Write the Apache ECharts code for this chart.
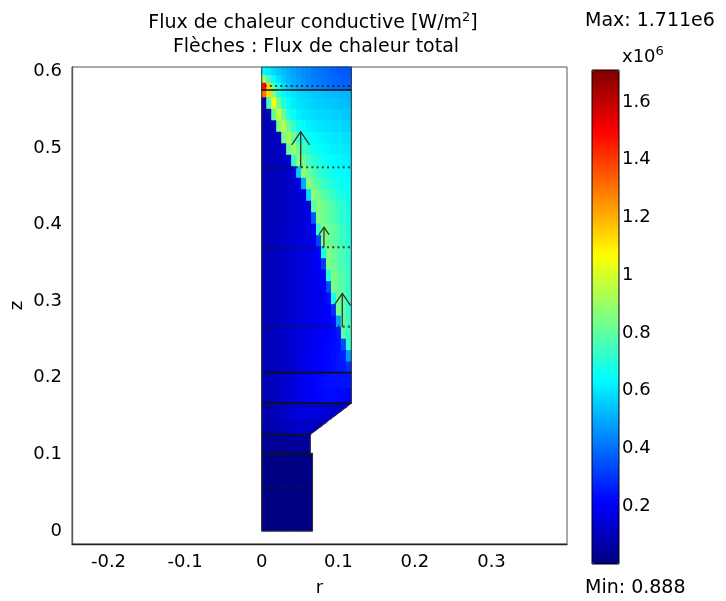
<!DOCTYPE html>
<html><head><meta charset="utf-8">
<script src="https://cdn.jsdelivr.net/npm/echarts@6/dist/echarts.min.js"></script>
<style>html,body{margin:0;padding:0;background:#fff}#c{width:726px;height:601px}</style>
</head><body><div id="c"></div>
<script>
// ---- grid of the field (r in m, z in m) ----
const rEdges = [0,0.0065,0.013,0.0195,0.026,0.0325,0.039,0.0455,0.052,0.0585,0.065,0.0715,0.078,0.0845,0.091,0.0975,0.104,0.1105,0.117];
const zEdges = [0,0.0505,0.101,0.126,0.1465,0.1667,0.1867,0.2067,0.2217,0.2367,0.2517,0.2667,0.2817,0.2967,0.3117,0.3267,0.3417,0.3567,0.3717,0.3867,0.4017,0.4167,0.4317,0.4467,0.4617,0.4767,0.4917,0.5067,0.5217,0.5367,0.5517,0.5667,0.5757,0.5857,0.5957,0.6057];

// conductive heat flux, units of 1e5 W/m2 (rows bottom -> top, columns r = 0 -> 0.117)
const fluxBase = [
 [0.05,0.05,0.05,0.05,0.05,0.05,0.05,0.05,0.05,0.05,0.05,null,null,null,null,null,null,null],
 [0.1,0.1,0.1,0.1,0.1,0.1,0.1,0.1,0.1,0.1,0.1,null,null,null,null,null,null,null],
 [0.35,0.35,0.4,0.4,0.4,0.45,0.45,0.45,0.45,0.45,null,null,null,null,null,null,null,null],
 [0.6,0.65,0.75,0.85,0.95,1.05,1.15,1.2,1.2,1.15,1.05,0.95,0.9,0.85,null,null,null,null],
 [0.8,0.85,0.95,1.05,1.2,1.35,1.5,1.6,1.65,1.7,1.65,1.55,1.45,1.35,1.3,1.25,1.2,1.15],
 [0.85,0.9,1.0,1.1,1.25,1.4,1.55,1.7,1.85,1.95,2.05,2.15,2.25,2.3,2.3,2.25,2.2,2.15],
 [0.9,0.95,1.05,1.15,1.3,1.45,1.6,1.75,1.9,2.0,2.1,2.2,2.3,2.35,2.4,2.4,2.4,2.45]
];
const fluxColumn = [
 [0.9,0.95,1.0,1.1,1.2,1.3,1.4,1.55,1.7,1.85,1.95,2.05,2.15,2.25,2.35,2.45,2.55,2.9],
 [0.9,0.95,1.0,1.1,1.2,1.3,1.4,1.55,1.7,1.85,1.95,2.05,2.15,2.25,2.35,2.45,2.7,4.7],
 [0.9,0.95,1.0,1.1,1.2,1.3,1.4,1.5,1.65,1.8,1.9,2.0,2.1,2.2,2.3,2.4,3.4,7.3],
 [0.9,0.95,1.0,1.1,1.2,1.3,1.4,1.5,1.6,1.75,1.85,1.95,2.05,2.15,2.25,2.5,8.0,7.4],
 [0.9,0.95,1.0,1.1,1.2,1.3,1.4,1.5,1.6,1.7,1.8,1.9,2.0,2.1,2.3,4.8,8.2,7.4],
 [0.9,0.95,1.0,1.1,1.2,1.3,1.4,1.5,1.6,1.7,1.8,1.9,2.0,2.1,2.9,8.3,7.9,7.3],
 [0.9,0.95,1.0,1.1,1.2,1.3,1.4,1.5,1.6,1.7,1.8,1.9,2.0,2.3,6.8,8.3,7.9,7.4],
 [0.9,0.95,1.0,1.1,1.2,1.3,1.4,1.5,1.6,1.7,1.8,1.9,2.1,3.4,8.4,8.1,7.8,7.3],
 [0.9,0.95,1.0,1.1,1.2,1.3,1.4,1.5,1.6,1.7,1.8,1.9,2.2,7.0,8.4,8.1,7.8,7.3],
 [0.9,0.95,1.0,1.1,1.2,1.3,1.4,1.5,1.6,1.7,1.8,2.0,3.1,8.5,8.2,7.9,7.6,7.2],
 [0.9,0.95,1.0,1.1,1.2,1.3,1.4,1.5,1.6,1.7,1.8,2.1,6.8,8.5,8.2,7.9,7.6,7.2],
 [0.9,0.95,1.0,1.1,1.2,1.3,1.4,1.5,1.6,1.7,1.9,3.2,8.6,8.3,8.0,7.7,7.4,7.05],
 [0.85,0.9,0.95,1.05,1.15,1.25,1.35,1.45,1.55,1.7,2.0,7.2,8.6,8.3,8.0,7.7,7.35,7.0],
 [0.85,0.9,0.95,1.0,1.1,1.2,1.3,1.4,1.5,1.7,3.6,8.6,8.3,8.0,7.7,7.4,7.1,6.85],
 [0.85,0.9,0.95,1.0,1.1,1.2,1.3,1.4,1.5,1.8,8.0,8.6,8.3,8.0,7.7,7.4,7.1,6.8],
 [0.85,0.9,0.95,1.0,1.1,1.2,1.3,1.4,1.7,5.8,8.7,8.3,7.9,7.6,7.3,7.0,6.8,6.6],
 [0.85,0.9,0.95,1.0,1.1,1.2,1.3,1.6,5.0,8.7,8.2,7.8,7.4,7.1,6.9,6.7,6.55,6.45],
 [0.85,0.9,0.95,1.05,1.15,1.25,1.5,5.6,8.8,8.2,7.7,7.3,7.0,6.8,6.6,6.5,6.4,6.35],
 [0.85,0.9,0.95,1.05,1.15,1.4,7.2,8.9,8.2,7.6,7.2,6.9,6.7,6.5,6.4,6.3,6.25,6.2],
 [0.85,0.9,0.95,1.05,1.3,8.2,9.0,8.2,7.5,7.0,6.7,6.5,6.4,6.3,6.2,6.15,6.1,6.05],
 [0.85,0.9,1.0,1.15,8.3,9.2,8.2,7.4,6.9,6.6,6.4,6.3,6.2,6.1,6.05,6.0,5.95,5.9],
 [0.85,0.9,1.05,8.5,9.5,8.2,7.2,6.7,6.4,6.2,6.1,6.0,5.95,5.9,5.85,5.8,5.75,5.7],
 [0.85,0.95,8.0,9.8,8.2,7.0,6.5,6.2,6.05,5.95,5.85,5.8,5.75,5.7,5.65,5.6,5.55,5.5],
 [0.85,7.5,10.5,8.3,7.0,6.4,6.1,5.95,5.85,5.75,5.65,5.6,5.55,5.5,5.45,5.4,5.35,5.3],
 [13.0,11.3,8.5,7.0,6.4,6.1,5.9,5.8,5.7,5.6,5.5,5.45,5.4,5.35,5.3,5.25,5.2,5.15]
];
const fluxTop = [
 [14.8,11.5,8,6.5,5.8,5.4,5.1,4.9,4.7,4.5,4.4,4.3,4.2,4.1,4.0,3.9,3.85,3.8],
 [9,7.5,6.4,5.9,5.5,5.2,5.0,4.8,4.6,4.4,4.3,4.2,4.1,4.0,3.9,3.8,3.75,3.7],
 [6.3,6.1,5.8,5.5,5.3,5.1,4.9,4.7,4.5,4.4,4.2,4.1,4.0,3.9,3.8,3.7,3.65,3.6]
];
const fluxMin = 0;        // 0.888 W/m2
const fluxMax = 17.11;    // 1.711e6 W/m2

// ---- geometry ----
const geomR = [0, 0.0664, 0.0664, 0.0634, 0.0634, 0.117, 0.117, 0, 0];
const geomZ = [0, 0, 0.101, 0.101, 0.126, 0.1667, 0.6057, 0.6057, 0];
const lineZ = [0.101, 0.126, 0.1667, 0.2067, 0.5757];
const lineREnd = [0.0664, 0.0634, 0.117, 0.117, 0.117];

// ---- arrows (total heat flux) ----
const dotRowZ = [0.0565, 0.1636, 0.2667, 0.3704, 0.4748, 0.581];
const dotRowCount = [9, 15, 17, 17, 17, 17];
const dotColR = [0.005,0.0118,0.0186,0.0254,0.0322,0.039,0.0458,0.0526,0.0594,0.0662,0.073,0.0798,0.0866,0.0934,0.1002,0.107,0.1138];
const bigArrowR = [0.0509, 0.0813, 0.1052];
const bigArrowZ0 = [0.4748, 0.3704, 0.2667];
const bigArrowZ1 = [0.5213, 0.3965, 0.3103];

// ---- ticks ----
const xTicks = [-0.2, -0.1, 0, 0.1, 0.2, 0.3];
const zTicks = [0, 0.1, 0.2, 0.3, 0.4, 0.5, 0.6];
const cbTicks = [2, 4, 6, 8, 10, 12, 14, 16];

const jet = ['#00007f','#0000ff','#007fff','#00ffff','#7fff7f','#ffff00','#ff7f00','#ff0000','#7f0000'];
const FONT = 'DejaVu Sans';

function edgeAt(z) {
  for (let i = 0; i < geomR.length - 1; i++) {
    const zA = geomZ[i], zB = geomZ[i + 1];
    if (zB > zA && geomR[i] > 0 && geomR[i + 1] > 0 && z >= zA && z <= zB) {
      return geomR[i] + (z - zA) / (zB - zA) * (geomR[i + 1] - geomR[i]);
    }
  }
  return 0;
}
function clipCell(r0, r1, z0, z1) {
  const eA = edgeAt(z0 + 1e-7), eB = edgeAt(z1 - 1e-7);
  const f = p => p[0] - (eA + (p[1] - z0) / (z1 - z0) * (eB - eA));
  const pts = [[r0, z0], [r1, z0], [r1, z1], [r0, z1]];
  const out = [];
  for (let i = 0; i < 4; i++) {
    const a = pts[i], b = pts[(i + 1) % 4], fa = f(a), fb = f(b);
    if (fa <= 1e-12) out.push(a);
    if ((fa < 0 && fb > 0) || (fa > 0 && fb < 0)) {
      const t = fa / (fa - fb);
      out.push([a[0] + t * (b[0] - a[0]), a[1] + t * (b[1] - a[1])]);
    }
  }
  return out;
}

const fluxRows = fluxBase.concat(fluxColumn, fluxTop);
const cells = [];
fluxRows.forEach((row, i) => {
  row.forEach((v, j) => {
    if (v !== null) cells.push([rEdges[j], rEdges[j + 1], zEdges[i], zEdges[i + 1], v]);
  });
});
const dots = [];
dotRowZ.forEach((z, i) => {
  for (let k = 0; k < dotRowCount[i]; k++) dots.push([dotColR[k], z]);
});

const chart = echarts.init(document.getElementById('c'), null, {renderer: 'canvas'});
const labelStyle = {color: '#000', fontSize: 18, fontFamily: FONT};

chart.setOption({
  animation: false,
  backgroundColor: '#fff',
  grid: [
    {left: 72, top: 67, width: 495, height: 477, show: true, borderColor: '#555', borderWidth: 1,
     backgroundColor: 'transparent', outerBoundsMode: 'none', containLabel: false},
    {left: 592, top: 70, width: 27, height: 494, show: false, outerBoundsMode: 'none', containLabel: false}
  ],
  xAxis: [
    {gridIndex: 0, type: 'value', min: -0.24765, max: 0.39855,
     axisLine: {show: true, onZero: false, lineStyle: {color: '#222', width: 1.3}},
     axisTick: {show: false}, splitLine: {show: false},
     axisLabel: Object.assign({customValues: xTicks, formatter: v => String(v), margin: 9}, labelStyle),
     name: 'r', nameLocation: 'middle', nameGap: 35, nameMoveOverlap: false, nameTextStyle: labelStyle},
    {gridIndex: 1, type: 'value', min: 0, max: 1, show: false}
  ],
  yAxis: [
    {gridIndex: 0, type: 'value', min: -0.01697, max: 0.6057,
     axisLine: {show: true, onZero: false, lineStyle: {color: '#555', width: 1.3}},
     axisTick: {show: false}, splitLine: {show: false},
     axisLabel: Object.assign({customValues: zTicks, formatter: v => String(v), margin: 10}, labelStyle),
     name: 'z', nameLocation: 'middle', nameGap: 46, nameMoveOverlap: false, nameTextStyle: labelStyle},
    {gridIndex: 1, type: 'value', min: fluxMin, max: fluxMax, position: 'left',
     axisLine: {show: false}, splitLine: {show: false}, axisLabel: {show: false},
     axisTick: {show: true, inside: true, length: 4, customValues: cbTicks, lineStyle: {color: '#000', width: 1}}},
    {gridIndex: 1, type: 'value', min: fluxMin, max: fluxMax, position: 'right',
     axisLine: {show: false}, splitLine: {show: false},
     axisTick: {show: true, inside: true, length: 4, customValues: cbTicks, lineStyle: {color: '#000', width: 1}},
     axisLabel: Object.assign({customValues: cbTicks, formatter: v => String(v / 10), margin: 3}, labelStyle)}
  ],
  visualMap: {
    type: 'continuous', min: fluxMin, max: fluxMax, seriesIndex: 0, dimension: 4,
    left: 592, top: 70, itemWidth: 27, itemHeight: 494, padding: 0,
    calculable: false, hoverLink: false, inRange: {color: jet}
  },
  series: [
    {type: 'custom', xAxisIndex: 0, yAxisIndex: 0, data: cells, silent: true,
     encode: {x: [0, 1], y: [2, 3]},
     renderItem: (params, api) => {
       const poly = clipCell(api.value(0), api.value(1), api.value(2), api.value(3));
       if (poly.length < 3) return null;
       const px = poly.map(p => api.coord(p));
       let cx = 0, cy = 0;
       px.forEach(p => { cx += p[0]; cy += p[1]; });
       cx /= px.length; cy /= px.length;
       const grown = px.map(p => [p[0] + Math.sign(p[0] - cx) * 0.45, p[1] + Math.sign(p[1] - cy) * 0.45]);
       return {type: 'polygon', shape: {points: grown},
               style: {fill: api.visual('color'), stroke: null}};
     }},
    {type: 'line', xAxisIndex: 0, yAxisIndex: 0, silent: true, symbol: 'none',
     data: geomR.map((r, i) => [r, geomZ[i]]),
     lineStyle: {color: '#333', width: 1}},
    {type: 'custom', xAxisIndex: 0, yAxisIndex: 0, silent: true,
     data: lineZ.map((z, i) => [0, lineREnd[i], z]),
     encode: {x: [0, 1], y: 2},
     renderItem: (params, api) => {
       const a = api.coord([api.value(0), api.value(2)]);
       const b = api.coord([api.value(1), api.value(2)]);
       return {type: 'line', shape: {x1: a[0], y1: a[1], x2: b[0], y2: b[1]},
               style: {stroke: '#111', lineWidth: 1.6}};
     }},
    {type: 'scatter', xAxisIndex: 0, yAxisIndex: 0, silent: true, data: dots,
     symbol: 'rect', symbolSize: [2, 2], itemStyle: {color: '#1a1a1a'}},
    {type: 'custom', xAxisIndex: 0, yAxisIndex: 0, silent: true,
     data: bigArrowR.map((r, i) => [r, bigArrowZ0[i], bigArrowZ1[i]]),
     encode: {x: 0, y: [1, 2]},
     renderItem: (params, api) => {
       const p0 = api.coord([api.value(0), api.value(1)]);
       const p1 = api.coord([api.value(0), api.value(2)]);
       const L = p0[1] - p1[1];
       const hl = 0.37 * L, hw = 0.25 * L;
       const st = {stroke: '#333', lineWidth: 1.3, fill: null};
       return {type: 'group', children: [
         {type: 'line', shape: {x1: p0[0], y1: p0[1], x2: p1[0], y2: p1[1]}, style: st},
         {type: 'polyline', shape: {points: [[p1[0] - hw, p1[1] + hl], [p1[0], p1[1]], [p1[0] + hw, p1[1] + hl]]}, style: st}
       ]};
     }}
  ],
  graphic: [
    {type: 'text', x: 313, y: 23, z: 100, style: {
      text: 'Flux de chaleur conductive [W/m{sup|2}]',
      font: '19px "DejaVu Sans"', fill: '#000',
      align: 'center', verticalAlign: 'middle', textAlign: 'center', textVerticalAlign: 'middle',
      rich: {sup: {fontSize: 13, fontFamily: FONT, fill: '#000', padding: [0, 0, 10, 0]}}
    }},
    {type: 'text', x: 316, y: 47, z: 100, style: {
      text: 'Flèches : Flux de chaleur total',
      font: '19px "DejaVu Sans"', fill: '#000',
      align: 'center', verticalAlign: 'middle', textAlign: 'center', textVerticalAlign: 'middle'
    }},
    {type: 'text', x: 585, y: 21, z: 100, style: {
      text: 'Max: 1.711e6', font: '19px "DejaVu Sans"', fill: '#000',
      align: 'left', verticalAlign: 'middle', textAlign: 'left', textVerticalAlign: 'middle'
    }},
    {type: 'text', x: 622, y: 57, z: 100, style: {
      text: 'x10{sup|6}', font: '18px "DejaVu Sans"', fill: '#000',
      align: 'left', verticalAlign: 'middle', textAlign: 'left', textVerticalAlign: 'middle',
      rich: {sup: {fontSize: 13, fontFamily: FONT, fill: '#000', padding: [0, 0, 11, 0]}}
    }},
    {type: 'text', x: 585, y: 588, z: 100, style: {
      text: 'Min: 0.888', font: '19px "DejaVu Sans"', fill: '#000',
      align: 'left', verticalAlign: 'middle', textAlign: 'left', textVerticalAlign: 'middle'
    }},
    {type: 'rect', z: 100, shape: {x: 592, y: 70, width: 27, height: 494},
     style: {fill: null, stroke: '#000', lineWidth: 1}}
  ]
});
</script>
</body></html>
